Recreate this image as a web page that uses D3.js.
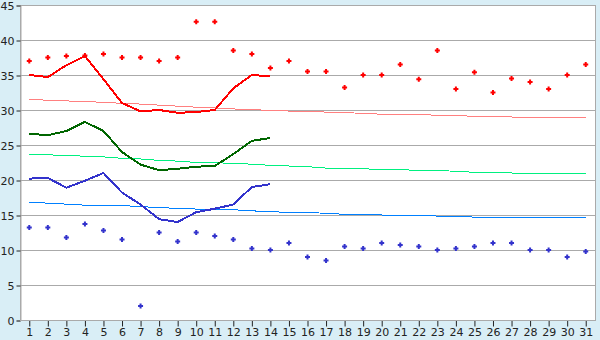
<!DOCTYPE HTML>
<html>
<head>
  <meta http-equiv="Content-Type" content="text/html; charset=UTF-8" />
  <script src="https://d3js.org/d3.v7.min.js"></script>
  <style>
    body { margin: 0; background-color: #d9eef6; }
    svg { display: block; }
    text { font-family: "DejaVu Sans", Verdana, sans-serif; font-size: 11px; fill: #222; }
  </style>
</head>
<body>
<svg width="600" height="340"></svg>
<script>
  // days of the month
  var days = d3.range(1, 32);
  var yTicks = [0, 5, 10, 15, 20, 25, 30, 35, 40, 45];

  // daily max / min readings (markers)
  var maxPoints = [37, 37.5, 37.7, 37.8, 38, 37.5, 37.5, 37, 37.5, 42.6, 42.6, 38.5, 38, 36, 37,
                   35.5, 35.5, 33.2, 35, 35, 36.5, 34.4, 38.5, 33, 35.4, 32.5, 34.5, 34, 33, 35, 36.5];
  var minPoints = [13.2, 13.2, 11.8, 13.7, 12.8, 11.5, 2, 12.5, 11.2, 12.5, 12, 11.5, 10.2, 10, 11,
                   9, 8.5, 10.5, 10.2, 11, 10.7, 10.5, 10, 10.2, 10.5, 11, 11, 10, 10, 9, 9.8];

  // forecast lines (first 14 days)
  var maxLine  = [35, 34.7, 36.4, 37.7, 34.4, 31, 29.8, 30, 29.6, 29.7, 30, 33.1, 35, 34.8];
  var meanLine = [26.6, 26.4, 27, 28.3, 27, 24, 22.2, 21.4, 21.6, 21.9, 22, 23.7, 25.6, 26];
  var minLine  = [20.2, 20.3, 18.9, 19.9, 21, 18.2, 16.5, 14.4, 14, 15.4, 15.9, 16.5, 19, 19.4];

  // normals
  var normMax  = [31.5, 31.4, 31.3, 31.2, 31.1, 30.95, 30.85, 30.7, 30.55, 30.4, 30.3, 30.15, 30.05, 29.95, 29.85,
                  29.8, 29.7, 29.65, 29.5, 29.4, 29.4, 29.35, 29.25, 29.2, 29.1, 29.05, 29, 28.95, 28.95, 28.95, 28.95];
  var normMean = [23.7, 23.6, 23.5, 23.4, 23.3, 23.1, 23, 22.8, 22.7, 22.5, 22.45, 22.4, 22.25, 22.1, 22,
                  21.9, 21.7, 21.7, 21.6, 21.5, 21.45, 21.4, 21.35, 21.25, 21.1, 21.05, 21, 20.95, 20.95, 20.95, 20.95];
  var normMin  = [16.8, 16.7, 16.55, 16.4, 16.4, 16.35, 16.2, 16.05, 15.95, 15.85, 15.8, 15.75, 15.6, 15.45, 15.4,
                  15.35, 15.25, 15.1, 15.1, 15, 14.95, 14.95, 14.85, 14.8, 14.7, 14.65, 14.65, 14.65, 14.65, 14.65, 14.65];

  var svg = d3.select("svg");
  var padL = 20, padR = 595, padT = 5, padB = 320;

  var x = d3.scaleBand().domain(days).range([padL, padR]);
  var y = d3.scaleLinear().domain([0, 45]).range([padB, padT]);
  var cx = function(d, i) { return x(days[i]) + x.bandwidth() / 2; };

  // plot area
  svg.append("rect")
     .attr("x", padL + 0.5).attr("y", padT + 0.5)
     .attr("width", padR - padL).attr("height", padB - padT)
     .style("fill", "#fff").style("stroke", "#aaa");

  // gridlines
  svg.selectAll(".grid").data(yTicks.slice(1))
     .enter().append("line")
     .attr("x1", padL).attr("x2", padR)
     .attr("y1", function(d) { return Math.round(y(d)) + 0.5; })
     .attr("y2", function(d) { return Math.round(y(d)) + 0.5; })
     .style("stroke", "#aaa");

  // axes
  var yAxis = d3.axisLeft(y).tickValues(yTicks).tickSize(4).tickPadding(2);
  var ya = svg.append("g").attr("transform", "translate(" + (padL + 0.5) + ",0.5)").call(yAxis);
  var xAxis = d3.axisBottom(x).tickSize(6).tickPadding(2);
  var xa = svg.append("g").attr("transform", "translate(0.5," + (padB + 0.5) + ")").call(xAxis);
  [ya, xa].forEach(function(a) {
    a.select(".domain").style("stroke", "#aaa");
    a.selectAll(".tick line").style("stroke", "#222");
    a.selectAll("text").style("font-size", "11px").style("font-family", "DejaVu Sans").style("fill", "#222");
  });
  xa.select(".domain").remove();
  svg.append("line").attr("x1", padL).attr("x2", padR)
     .attr("y1", padB + 0.5).attr("y2", padB + 0.5).style("stroke", "#aaa");

  var line = d3.line().x(cx).y(function(d) { return y(d); });

  function drawLine(values, color, width) {
    svg.append("path").datum(values)
       .attr("d", line)
       .style("fill", "none")
       .style("stroke", color)
       .style("stroke-width", width)
       .style("shape-rendering", "crispEdges");
  }

  drawLine(normMax, "#ff8080", 1);
  drawLine(normMean, "#00f080", 1);
  drawLine(normMin, "#0080ff", 1);
  drawLine(maxLine, "#ff0000", 2);
  drawLine(meanLine, "#006600", 2);
  drawLine(minLine, "#3333cc", 2);

  var cross = "M-1,-2.5h2v1.5h1.5v2h-1.5v1.5h-2v-1.5h-1.5v-2h1.5z";
  function drawPoints(values, color) {
    svg.append("g").selectAll("path").data(values)
       .enter().append("path")
       .attr("d", cross)
       .attr("transform", function(d, i) { return "translate(" + cx(d, i) + "," + y(d) + ")"; })
       .style("fill", color);
  }
  drawPoints(maxPoints, "#ff0000");
  drawPoints(minPoints, "#3333cc");
</script>
</body>
</html>
